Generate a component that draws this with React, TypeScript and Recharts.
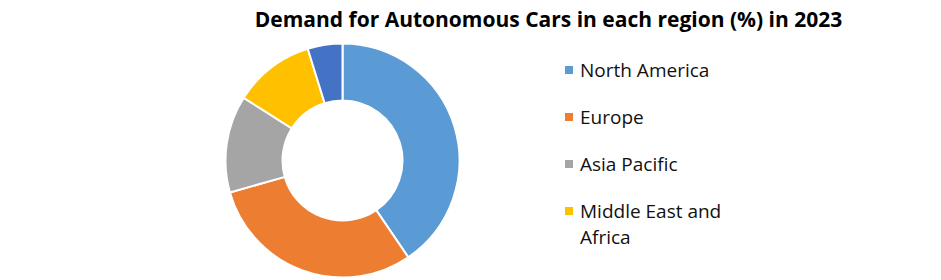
import React from 'react';
import { PieChart, Pie, Cell, Legend } from 'recharts';

const regions = ['North America', 'Europe', 'Asia Pacific', 'Middle East and Africa', 'South America'];
const shares = [40.5, 30.1, 13.4, 11.2, 4.8];
const colors = ['#5B9BD5', '#ED7D31', '#A5A5A5', '#FFC000', '#4472C4'];
// the legend box in the original is clipped, only the first four show
const legendShown = 4;

const data = regions.map((name, i) => ({ name, value: shares[i] }));

const FONT = '"Open Sans", "Noto Sans", sans-serif';

const RegionLegend = () => (
  <ul style={{ listStyle: 'none', margin: 0, padding: 0, fontFamily: FONT, fontSize: 19, color: '#111' }}>
    {regions.slice(0, legendShown).map((name, i) => (
      <li key={name} style={{ display: 'flex', alignItems: 'flex-start', marginBottom: 21, lineHeight: '26px' }}>
        <span
          style={{
            display: 'inline-block',
            width: 8,
            height: 8,
            marginTop: 9,
            marginRight: 7,
            flex: 'none',
            backgroundColor: colors[i],
          }}
        />
        <span style={{ width: 160 }}>{name}</span>
      </li>
    ))}
  </ul>
);

export default function App() {
  return (
    <div style={{ position: 'absolute', left: 0, top: 0, width: 941, height: 280, background: '#fff' }}>
      <div
        style={{
          position: 'absolute',
          left: 0,
          top: 5,
          width: 1097,
          textAlign: 'center',
          fontFamily: FONT,
          fontWeight: 700,
          fontSize: 21,
          color: '#000',
          zIndex: 2,
        }}
      >
        Demand for Autonomous Cars in each region (%) in 2023
      </div>
      <PieChart width={941} height={280} margin={{ top: 0, right: 0, bottom: 0, left: 0 }}>
        <Pie
          data={data}
          dataKey="value"
          nameKey="name"
          cx={342.5}
          cy={160.5}
          innerRadius={60}
          outerRadius={117}
          startAngle={90}
          endAngle={-270}
          stroke="#fff"
          strokeWidth={2}
          isAnimationActive={false}
        >
          {data.map((d, i) => (
            <Cell key={d.name} fill={colors[i]} />
          ))}
        </Pie>
        <Legend
          content={<RegionLegend />}
          layout="vertical"
          wrapperStyle={{ position: 'absolute', left: 565, top: 57, width: 220 }}
        />
      </PieChart>
    </div>
  );
}
